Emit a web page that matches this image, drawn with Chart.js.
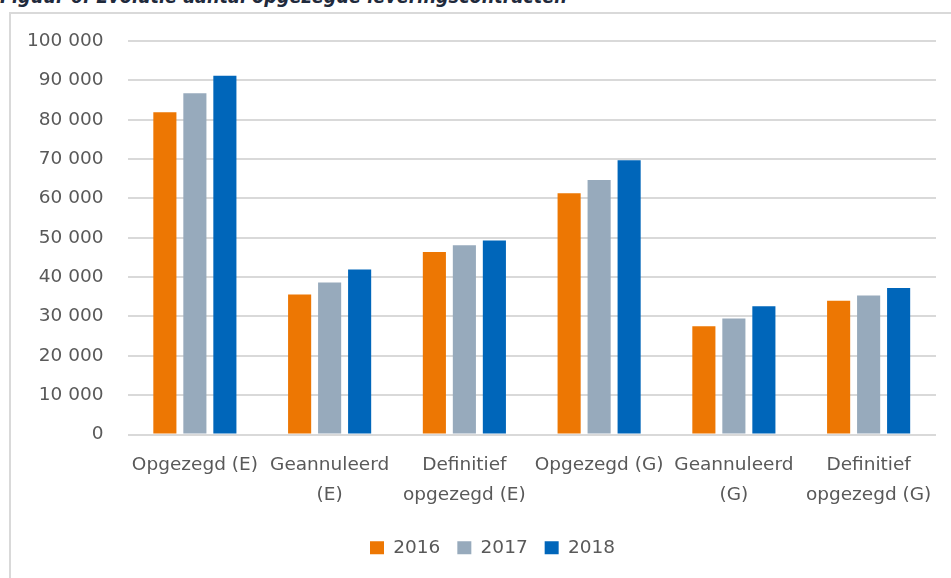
<!DOCTYPE html>
<html>
<head>
<meta charset="utf-8">
<script src="https://cdn.jsdelivr.net/npm/chart.js@4/dist/chart.umd.min.js"></script>
<style>
  html, body { margin: 0; padding: 0; background: #fff; overflow: hidden; }
  body { width: 951px; height: 578px; position: relative; }
  #frame {
    position: absolute; left: 9px; top: 12px; width: 960px; height: 580px;
    border-top: 2px solid #d9d9d9; border-left: 2px solid #d9d9d9;
  }
  #title {
    position: absolute; left: 0; top: -15px; white-space: nowrap;
    font-family: "DejaVu Sans Condensed", "DejaVu Sans", sans-serif;
    font-weight: bold; font-style: italic; font-size: 17px; color: #1f2a3c;
  }
  #wrap { position: absolute; left: 0; top: 0; width: 951px; height: 578px; }
</style>
</head>
<body>
<div id="title">Figuur 6: Evolutie aantal opgezegde leveringscontracten</div>
<div id="frame"></div>
<div id="wrap"><canvas id="chart"></canvas></div>
<script>
var categories = [
	['Opgezegd (E)'],
	['Geannuleerd', '(E)'],
	['Definitief', 'opgezegd (E)'],
	['Opgezegd (G)'],
	['Geannuleerd', '(G)'],
	['Definitief', 'opgezegd (G)']
];
var seriesNames = ['2016', '2017', '2018'];
var values2016 = [81900, 35600, 46400, 61300, 27500, 34000];
var values2017 = [86700, 38600, 48100, 64700, 29500, 35300];
var values2018 = [91200, 41900, 49300, 69700, 32600, 37200];
var yTicks = [0, 10000, 20000, 30000, 40000, 50000, 60000, 70000, 80000, 90000, 100000];

var colors = ['#ed7703', '#97aabc', '#0066ba'];
var textColor = '#595959';
var fontFamily = '"DejaVu Sans", sans-serif';

// title width in the picture is about 567px
var t = document.getElementById('title');
var w = t.getBoundingClientRect().width;
t.style.fontSize = (17 * 567 / w) + 'px';

function spaced(v) {
	return String(v).replace(/\B(?=(\d{3})+(?!\d))/g, ' ');
}

// nudge the legend a bit, as in the picture
var legendShift = {
	id: 'legendShift',
	afterLayout: function(chart) {
		var lg = chart.legend;
		if (!lg) return;
		lg.left += 23; lg.right += 23;
		lg.top -= 5; lg.bottom -= 5;
	}
};

var ctx = document.getElementById('chart').getContext('2d');
var data = [values2016, values2017, values2018];
var datasets = [];
for (var i = 0; i < seriesNames.length; i++) {
	datasets.push({
		label: seriesNames[i],
		data: data[i],
		backgroundColor: colors[i],
		borderWidth: 0,
		categoryPercentage: 0.668,
		barPercentage: 0.77
	});
}

var chart = new Chart(ctx, {
	type: 'bar',
	data: { labels: categories, datasets: datasets },
	plugins: [legendShift],
	options: {
		responsive: true,
		maintainAspectRatio: false,
		animation: false,
		layout: { autoPadding: false, padding: { left: 3, right: 15, top: 41, bottom: 6 } },
		plugins: {
			tooltip: { enabled: false },
			legend: {
				position: 'bottom',
				labels: {
					boxWidth: 14,
					boxHeight: 13,
					padding: 17,
					color: textColor,
					font: { family: fontFamily, size: 18.5 }
				}
			}
		},
		scales: {
			x: {
				grid: { display: false, drawTicks: false },
				border: { display: false },
				ticks: {
					color: textColor,
					padding: 16,
					maxRotation: 0,
					autoSkip: false,
					font: { family: fontFamily, size: 18.5, lineHeight: '30px' }
				}
			},
			y: {
				min: 0,
				max: 100000,
				afterBuildTicks: function(axis) {
					axis.ticks = yTicks.map(function(v) { return { value: v }; });
				},
				grid: { color: '#d9d9d9', lineWidth: 2, drawTicks: false },
				border: { display: false },
				ticks: {
					color: textColor,
					padding: 24,
					font: { family: fontFamily, size: 18.5 },
					callback: function(v) { return spaced(v); }
				}
			}
		}
	}
});
</script>
</body>
</html>
